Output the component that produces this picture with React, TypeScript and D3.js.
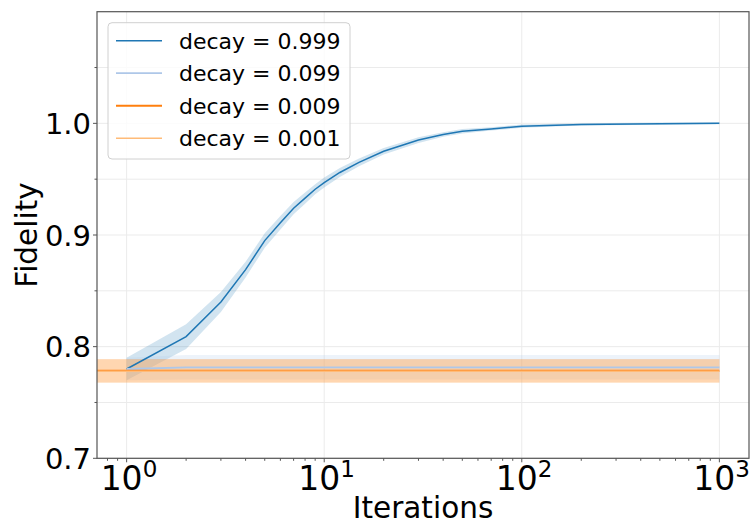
import React from "react";
import * as d3 from "d3";

// Iteration counts sampled for the decay = 0.999 run
const iterations = [1, 2, 3, 4, 5, 6, 7, 8, 9, 10, 12, 15, 20, 30, 40, 50, 70, 100, 200, 500, 1000];
// Mean fidelity and the half-width of its confidence band
const fidelity999 = [0.78, 0.809, 0.84, 0.869, 0.895, 0.911, 0.924, 0.933, 0.941, 0.947, 0.956, 0.965, 0.975, 0.985, 0.99, 0.993, 0.995, 0.9975, 0.999, 0.9997, 1.0];
const spread999 = [0.01, 0.011, 0.009, 0.007, 0.0065, 0.006, 0.0055, 0.005, 0.0045, 0.0045, 0.004, 0.0035, 0.003, 0.0025, 0.002, 0.002, 0.0015, 0.0015, 0.001, 0.001, 0.0008];

// The low-decay runs stay flat
const iterationsFlat099 = [1, 2, 5, 10, 100, 1000];
const fidelity099 = [0.78, 0.7815, 0.7815, 0.7815, 0.7815, 0.7815];
const spread099 = [0.01, 0.011, 0.011, 0.011, 0.011, 0.011];

const iterationsFlat009 = [0, 1, 10, 100, 1000];
const fidelity009 = [0.7785, 0.7785, 0.7785, 0.7785, 0.7785];
const spread009 = [0.0105, 0.0105, 0.0105, 0.0105, 0.0105];

const iterationsFlat001 = [0, 1, 10, 100, 1000];
const fidelity001 = [0.778, 0.778, 0.778, 0.778, 0.778];
const spread001 = [0.0103, 0.0103, 0.0103, 0.0103, 0.0103];

const legendLabels = ["decay = 0.999", "decay = 0.099", "decay = 0.009", "decay = 0.001"];
const seriesColors = ["#1f77b4", "#aec7e8", "#ff7f0e", "#ffbb78"];
const seriesWidths = [1.5, 1.8, 2.0, 1.5];
const bandOpacity = [0.2, 0.22, 0.25, 0.25];

const yTicks = [0.7, 0.8, 0.9, 1.0];
const yMinorTicks = [0.75, 0.85, 0.95, 1.05];
const xTickExponents = [0, 1, 2, 3];

const W = 751;
const H = 525;
const left = 97;
const right = 749;
const top = 11.7;
const bottom = 458.3;

type Pt = { x: number; y: number; lo: number; hi: number };

function buildSeries(xs: number[], ys: number[], sp: number[]): Pt[] {
  return xs.map((x, i) => ({ x, y: ys[i], lo: ys[i] - sp[i], hi: ys[i] + sp[i] }));
}

export default function App() {
  const x = d3.scaleLog().domain([Math.pow(10, -0.15), Math.pow(10, 3.15)]).range([left, right]);
  const y = d3.scaleLinear().domain([0.7, 1.1]).range([bottom, top]);
  // non-positive iteration counts are pushed past the left edge and clipped
  const px = (v: number) => (v > 0 ? x(v) : left - 20);

  const series = [
    buildSeries(iterations, fidelity999, spread999),
    buildSeries(iterationsFlat099, fidelity099, spread099),
    buildSeries(iterationsFlat009, fidelity009, spread009),
    buildSeries(iterationsFlat001, fidelity001, spread001),
  ];

  const line = d3.line<Pt>().x((d) => px(d.x)).y((d) => y(d.y));
  const area = d3.area<Pt>().x((d) => px(d.x)).y0((d) => y(d.lo)).y1((d) => y(d.hi));

  const xMinor: number[] = [];
  for (let e = -1; e <= 3; e++) {
    for (let m = 2; m <= 9; m++) {
      const v = m * Math.pow(10, e);
      const [a, b] = x.domain();
      if (v >= a && v <= b) xMinor.push(v);
    }
  }

  const font = "DejaVu Sans";

  return (
    <svg width={W} height={H} style={{ position: "absolute", left: 0, top: 0, background: "#fff" }} fontFamily={font}>
      <defs>
        <clipPath id="plotArea">
          <rect x={left} y={top} width={right - left} height={bottom - top} />
        </clipPath>
      </defs>
      <rect x={0} y={0} width={W} height={H} fill="#fff" />

      {/* grid */}
      <g stroke="#ebebeb" strokeWidth={1}>
        {xTickExponents.map((e) => (
          <line key={"gx" + e} x1={x(Math.pow(10, e))} x2={x(Math.pow(10, e))} y1={top} y2={bottom} />
        ))}
        {[...yTicks, ...yMinorTicks].map((v) => (
          <line key={"gy" + v} x1={left} x2={right} y1={y(v)} y2={y(v)} />
        ))}
      </g>

      {/* confidence bands and mean lines */}
      <g clipPath="url(#plotArea)">
        {series.map((s, i) => (
          <path key={"band" + i} d={area(s) || ""} fill={seriesColors[i]} fillOpacity={bandOpacity[i]} stroke="none" />
        ))}
        {series.map((s, i) => (
          <path key={"line" + i} d={line(s) || ""} fill="none" stroke={seriesColors[i]} strokeWidth={seriesWidths[i]} />
        ))}
      </g>

      {/* frame */}
      <rect x={left} y={top} width={right - left} height={bottom - top} fill="none" stroke="#555" strokeWidth={1.2} />

      {/* axis ticks */}
      <g stroke="#555" strokeWidth={1}>
        {yTicks.map((v) => (
          <line key={"yt" + v} x1={left - 4} x2={left} y1={y(v)} y2={y(v)} />
        ))}
        {yMinorTicks.map((v) => (
          <line key={"ym" + v} x1={left - 2.5} x2={left} y1={y(v)} y2={y(v)} />
        ))}
        {xTickExponents.map((e) => (
          <line key={"xt" + e} x1={x(Math.pow(10, e))} x2={x(Math.pow(10, e))} y1={bottom} y2={bottom + 4} />
        ))}
        {xMinor.map((v) => (
          <line key={"xm" + v} x1={x(v)} x2={x(v)} y1={bottom} y2={bottom + 2.5} />
        ))}
      </g>

      {yTicks.map((v) => (
        <text key={"yl" + v} x={91} y={y(v) + 10.5} textAnchor="end" fontSize={29} fill="#000">
          {v.toFixed(1)}
        </text>
      ))}

      {xTickExponents.map((e) => (
        <text key={"xl" + e} x={x(Math.pow(10, e)) - 26} y={490} fontSize={33} fill="#000">
          10
          <tspan fontSize={23} dy={-13}>
            {e}
          </tspan>
        </text>
      ))}

      <text x={(left + right) / 2} y={518} textAnchor="middle" fontSize={29.5} fill="#000">
        Iterations
      </text>
      <text transform={`translate(37, ${(top + bottom) / 2}) rotate(-90)`} textAnchor="middle" fontSize={29.5} fill="#000">
        Fidelity
      </text>

      {/* legend */}
      <g>
        <rect x={108} y={22.7} width={242} height={136.3} rx={4} fill="#fff" fillOpacity={0.8} stroke="#d0d0d0" strokeWidth={1} />
        {legendLabels.map((lab, i) => {
          const ly = 40.7 + i * 32.5;
          return (
            <g key={lab}>
              <line x1={116} x2={162} y1={ly} y2={ly} stroke={seriesColors[i]} strokeWidth={seriesWidths[i]} />
              <text x={179} y={ly + 8} fontSize={22} fill="#000">
                {lab}
              </text>
            </g>
          );
        })}
      </g>
    </svg>
  );
}
